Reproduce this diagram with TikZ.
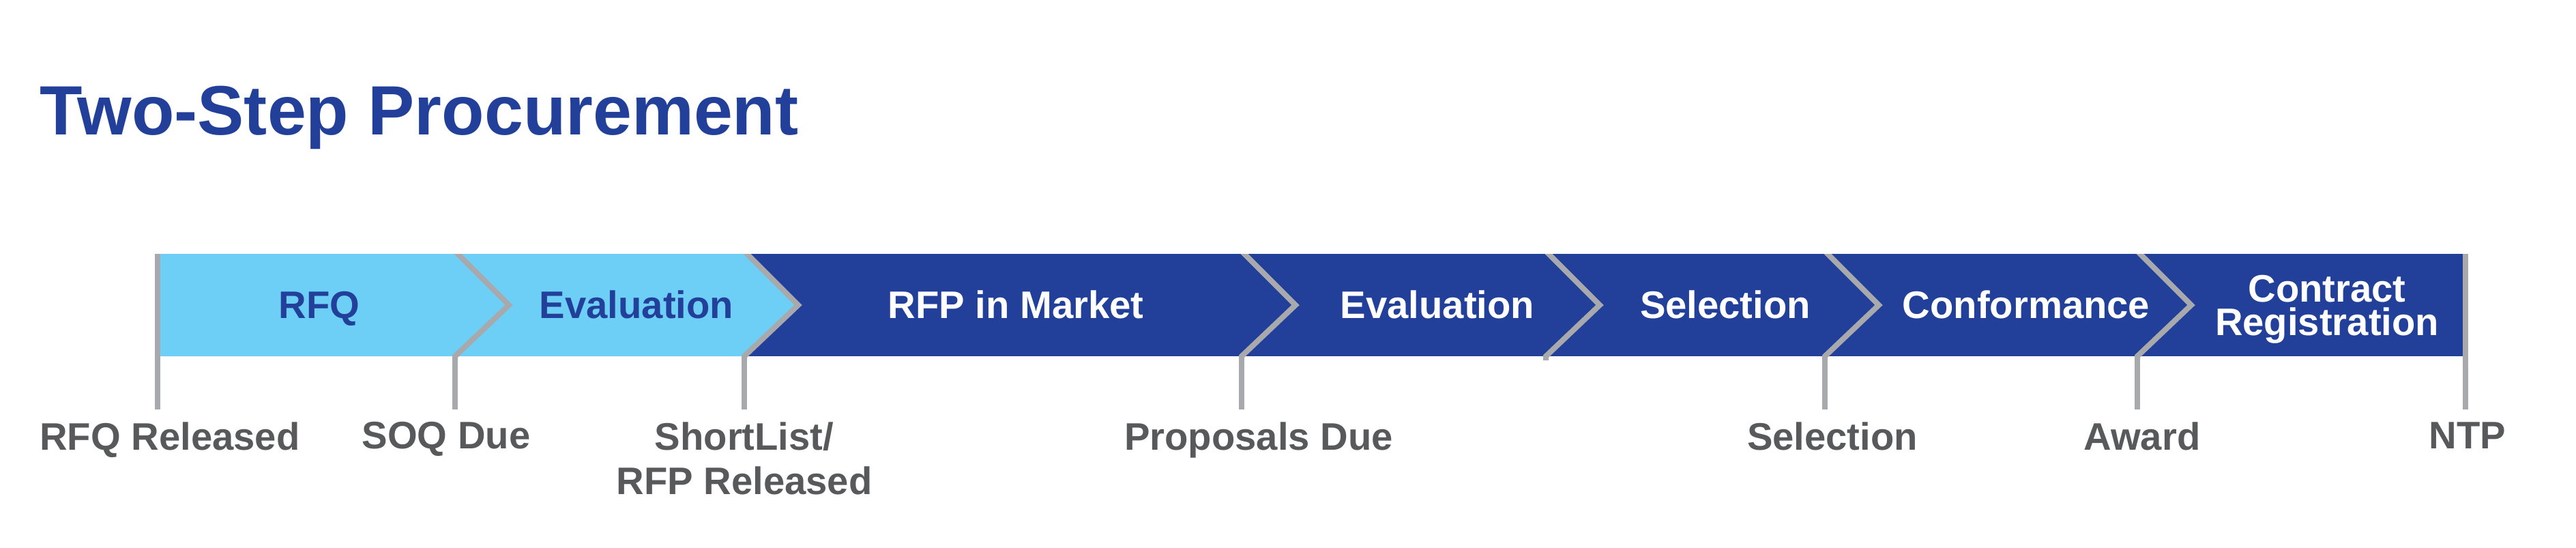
\documentclass[tikz,border=0pt]{standalone}
\usepackage{fontspec}
\setmainfont{Liberation Sans}
\usetikzlibrary{positioning}
\definecolor{rfqBlue}{HTML}{6DCFF6}
\definecolor{rfpBlue}{HTML}{22409A}
\definecolor{chevGray}{HTML}{A7A9AC}
\definecolor{mileGray}{HTML}{58595B}

\begin{document}
\begin{tikzpicture}[
  phase/.style={font=\bfseries\fontsize{16}{14}\selectfont, align=center,
                inner sep=0pt, text=white},
  mile/.style={font=\bfseries\fontsize{16}{18.5}\selectfont, text=mileGray,
               align=center, inner sep=0pt},
  chev/.style={draw=chevGray, line width=0.08cm, miter limit=10},
  tick/.style={draw=chevGray, line width=0.08cm}
]
\useasboundingbox (0,0) rectangle (37.76,8.02);
\node[anchor=base west, inner sep=0pt, text=rfpBlue,
      font=\bfseries\fontsize{29.1}{31}\selectfont] (title) at (0.58,6.04)
  {Two-Step Procurement};
% bar
\fill[rfpBlue] (10.91,2.80) rectangle (36.14,4.30);
\fill[rfqBlue] (2.31,4.30) -- (10.91,4.30) -- (11.68,3.55) -- (10.91,2.80)
  -- (2.31,2.80) -- cycle;
\begin{scope}
  \clip (0,0) rectangle (37.76,4.30);
  \foreach \x in {6.67,10.91,18.20,22.66,26.75,31.33}
    \draw[chev] (\x,4.34) -- ++(0.79,-0.79) -- (\x,2.80) -- ++(0,-0.06);
\end{scope}
% milestones
\foreach \x/\n in {2.31/a,6.67/b,10.91/c,18.20/d,26.75/e,31.33/f,36.14/g}{
  \coordinate (top\n) at (\x,2.80);
  \coordinate (tick\n) at (\x,2.02);
  \draw[tick] (top\n) -- (tick\n);
}
\draw[tick] (2.31,4.30) -- (topa);
\draw[tick] (36.14,4.30) -- (topg);
% phases
\node[phase, anchor=base, text=rfpBlue] (rfq) at (4.68,3.36) {RFQ};
\node[phase, anchor=base, text=rfpBlue] (evalQ) at (9.33,3.36) {Evaluation};
\node[phase, anchor=base] (rfpm) at (14.89,3.36) {RFP in Market};
\node[phase, anchor=base] (evalP) at (21.07,3.36) {Evaluation};
\node[phase, anchor=base] (sel) at (25.29,3.36) {Selection};
\node[phase, anchor=base] (conf) at (29.70,3.36) {Conformance};
\node[phase] (contr) at (34.11,3.49) {Contract\\Registration};
% labels
\node[mile, below=0.18cm of ticka, xshift=0.18cm] (lrfq) {RFQ Released};
\node[mile, below=0.18cm of tickb, xshift=-0.13cm] (lsoq) {SOQ Due};
\node[mile, below=0.18cm of tickc] (lshort) {ShortList/\\RFP Released};
\node[mile, below=0.18cm of tickd, xshift=0.25cm] (lprop) {Proposals Due};
\node[mile, below=0.18cm of ticke, xshift=0.11cm] (lsel) {Selection};
\node[mile, below=0.18cm of tickf, xshift=0.07cm] (laward) {Award};
\node[mile, below=0.18cm of tickg, xshift=0.03cm] (lntp) {NTP};
\end{tikzpicture}
\end{document}
